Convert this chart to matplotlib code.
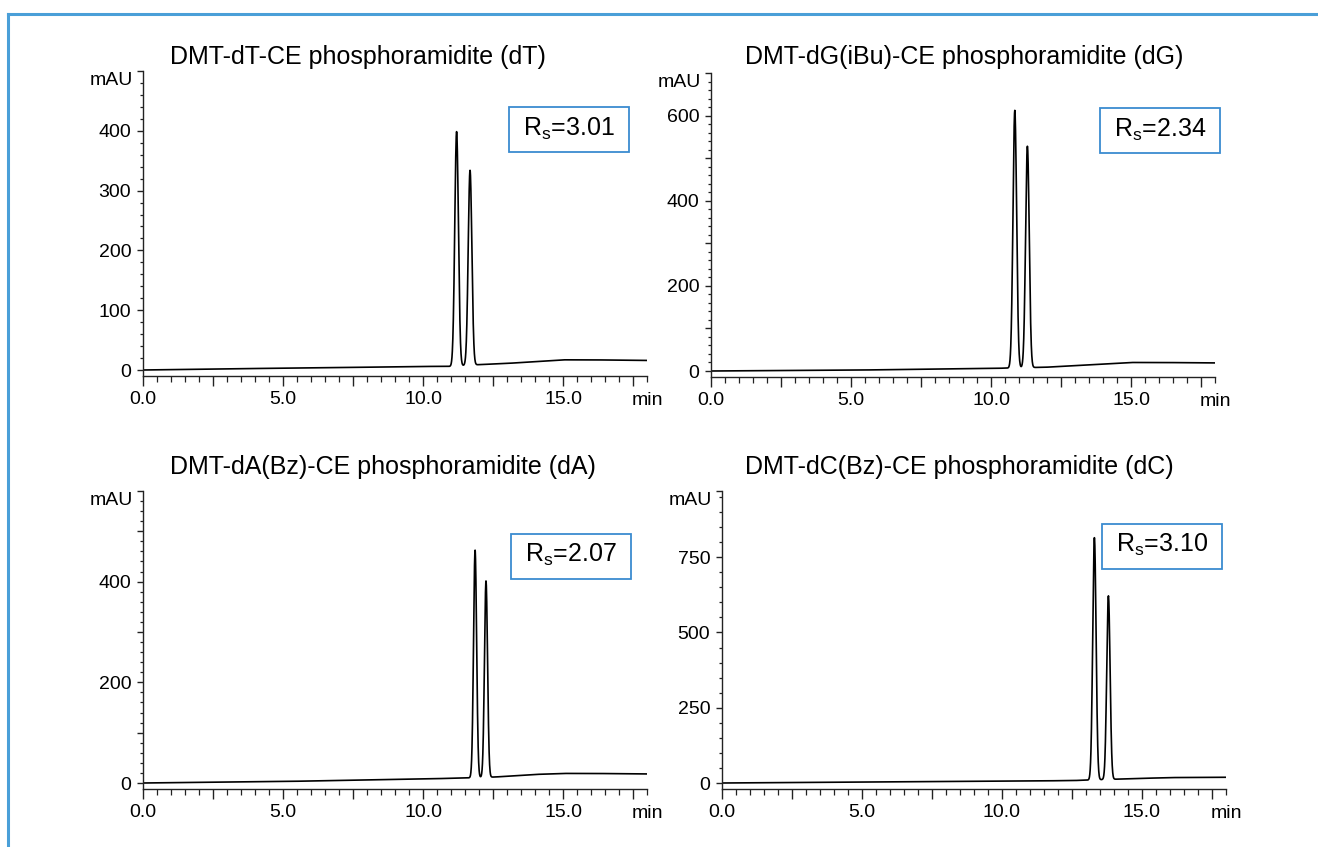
import numpy as np
import matplotlib
matplotlib.use("Agg")
import matplotlib.pyplot as plt
from matplotlib.lines import Line2D
from matplotlib.patches import Rectangle
from matplotlib.ticker import MultipleLocator, FuncFormatter

plt.rcParams['font.family'] = ['Liberation Sans', 'DejaVu Sans']
plt.rcParams['mathtext.fontset'] = 'custom'
plt.rcParams['mathtext.rm'] = 'Liberation Sans'

# ---- data ----
titles = ["DMT-dT-CE phosphoramidite (dT)",
          "DMT-dG(iBu)-CE phosphoramidite (dG)",
          "DMT-dA(Bz)-CE phosphoramidite (dA)",
          "DMT-dC(Bz)-CE phosphoramidite (dC)"]
rs_values = ["3.01", "2.34", "2.07", "3.10"]

# retention time (min), height above baseline (mAU), peak sigma (min)
peak_times = [[11.20, 11.68], [10.85, 11.30], [11.86, 12.25], [13.30, 13.80]]
peak_heights = [[392, 326], [605, 520], [452, 390], [805, 610]]
peak_sigma = [0.065, 0.065, 0.055, 0.06]

# baseline drift anchor points
base_t = [[0, 3, 7, 10, 11, 12, 13, 14, 15, 16, 18],
          [0, 5, 10, 12, 14, 15, 16, 18],
          [0, 5, 10, 11.5, 12.6, 14, 15, 16, 18],
          [0, 5, 10, 12.5, 14.5, 16, 18]]
base_v = [[0, 2, 4, 6, 6, 9, 11, 14, 17, 17, 16],
          [0, 2, 6, 9, 16, 20, 20, 19],
          [0, 3, 8, 10, 12, 17, 19, 19, 18],
          [0, 3, 6, 8, 14, 18, 19]]

y_top = [500, 700, 580, 970]
y_major = [100, 100, 100, 250]
y_label_step = [100, 200, 200, 250]
y_minor = [20, 20, 20, 50]
x_end = 18.0

# ---- layout (pixels of a 1318x847 canvas) ----
W, H = 1318, 847
ax_left = [143, 711, 143, 722]
ax_top = [71, 73, 491, 491]
ax_bottom = [376, 377, 789, 789]
ax_width = 504
zero_off = 6          # px between the 0 level and the x axis line
title_x = [170, 745, 170, 745]
title_y = [57, 57, 467, 467]
box_center = [(569, 130), (1160, 131), (571, 556), (1162, 546)]
box_size = (120, 45)

frame_blue = '#4a9fd8'
box_blue = '#3a8bd0'
axis_col = '#222222'
fs_tick = 14

fig = plt.figure(figsize=(W / 100, H / 100), dpi=100)

# outer frame (top and left edges)
fig.add_artist(Line2D([8 / W, 1], [1 - 14 / H, 1 - 14 / H], color=frame_blue, lw=2.2))
fig.add_artist(Line2D([8 / W, 8 / W], [0, 1 - 14 / H], color=frame_blue, lw=2.2))

t = np.linspace(0, x_end, 4001)

for i in range(4):
    h_px = ax_bottom[i] - ax_top[i]
    ax = fig.add_axes([ax_left[i] / W, 1 - ax_bottom[i] / H, ax_width / W, h_px / H])

    sig = np.interp(t, base_t[i], base_v[i])
    for tr, hh in zip(peak_times[i], peak_heights[i]):
        sig = sig + hh * np.exp(-0.5 * ((t - tr) / peak_sigma[i]) ** 2)
    ax.plot(t, sig, color='black', lw=1.2)

    top = y_top[i]
    bottom = -top * zero_off / (h_px - zero_off)
    ax.set_xlim(0, x_end)
    ax.set_ylim(bottom, top)

    for s in ['top', 'right']:
        ax.spines[s].set_visible(False)
    for s in ['left', 'bottom']:
        ax.spines[s].set_color(axis_col)
        ax.spines[s].set_linewidth(1.0)

    # x ticks: major every 2.5 min, labels every 5
    ax.xaxis.set_major_locator(MultipleLocator(2.5))
    ax.xaxis.set_minor_locator(MultipleLocator(0.5))
    ax.xaxis.set_major_formatter(FuncFormatter(
        lambda v, p: f"{v:.1f}" if abs(v / 5 - round(v / 5)) < 1e-6 and v < x_end - 1 else ""))
    ax.tick_params(axis='x', which='major', length=7, width=1.0, pad=4, labelsize=fs_tick, color=axis_col)
    ax.tick_params(axis='x', which='minor', length=4, width=0.9, color=axis_col)

    # y ticks, with an end tick at the top of the axis
    majors = list(np.arange(0, top + 1e-6, y_major[i]))
    if majors[-1] < top:
        majors.append(top)
    step = y_label_step[i]
    ax.set_yticks(majors)
    ax.set_yticklabels([f"{int(v)}" if (v % step == 0 and v < top) else "" for v in majors])
    ax.yaxis.set_minor_locator(MultipleLocator(y_minor[i]))
    ax.tick_params(axis='y', which='major', length=4.5, width=1.0, pad=4, labelsize=fs_tick, color=axis_col)
    ax.tick_params(axis='y', which='minor', length=2.5, width=0.9, color=axis_col)

    ax.annotate("mAU", xy=(0, 1), xycoords='axes fraction', xytext=(-7.5, -1),
                textcoords='offset points', ha='right', va='top', fontsize=fs_tick)
    ax.annotate("min", xy=(x_end, 0), xycoords=('data', 'axes fraction'), xytext=(0, -11.5),
                textcoords='offset points', ha='center', va='top', fontsize=fs_tick)

    # resolution box
    cx, cy = box_center[i]
    bw, bh = box_size
    fx = (cx - ax_left[i]) / ax_width
    fy = (ax_bottom[i] - cy) / h_px
    ax.add_patch(Rectangle((fx - bw / 2 / ax_width, fy - bh / 2 / h_px), bw / ax_width, bh / h_px,
                           transform=ax.transAxes, fc='white', ec=box_blue, lw=1.3, zorder=3,
                           clip_on=False))
    ax.text(fx, fy + 0.005, r"R$_{\mathregular{s}}$=" + rs_values[i], transform=ax.transAxes,
            ha='center', va='center', fontsize=18, zorder=4, clip_on=False)

    fig.text(title_x[i] / W, 1 - title_y[i] / H, titles[i], ha='left', va='center', fontsize=18)

fig.savefig("out.png", dpi=100)
